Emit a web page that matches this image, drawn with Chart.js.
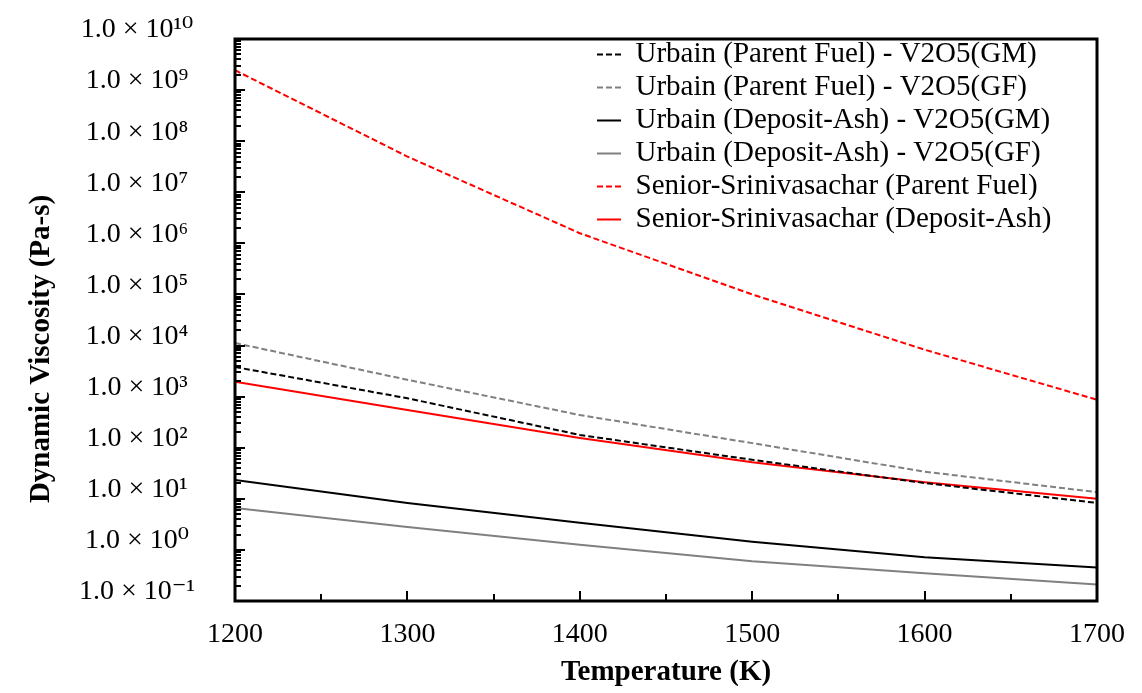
<!DOCTYPE html>
<html>
<head>
<meta charset="utf-8">
<script src="https://cdn.jsdelivr.net/npm/chart.js@4"></script>
<style>
  html, body { margin: 0; padding: 0; background: #fff; }
</style>
</head>
<body>
<canvas id="chart" width="1142" height="693"></canvas>
<script>
// Temperature (K) and viscosity (Pa-s)
const temperatures = [1200, 1300, 1400, 1500, 1600, 1700];
const urbainParentGM = [3800, 930, 178, 58, 20.4, 8.3];
const urbainParentGF = [11200, 2140, 437, 123, 34, 13.5];
const urbainDepositGM = [23.4, 8.3, 3.4, 1.45, 0.72, 0.45];
const urbainDepositGF = [6.6, 2.8, 1.26, 0.6, 0.35, 0.21];
const seniorParent = [2.45e9, 5.0e7, 1.58e6, 1.0e5, 8300, 870];
const seniorDeposit = [1950, 550, 155, 52, 21, 10];

const yMin = 0.1;
const yMax = 1e10;
const xTickStep = 50;

const superDigits = { '-': '\u207b', '0': '\u2070', '1': '\u00b9', '2': '\u00b2', '3': '\u00b3',
    '4': '\u2074', '5': '\u2075', '6': '\u2076', '7': '\u2077', '8': '\u2078', '9': '\u2079' };

function isPow10(v) {
    const e = Math.log10(v);
    return Math.abs(e - Math.round(e)) < 1e-9;
}

function sciLabel(v) {
    const e = String(Math.round(Math.log10(v)));
    return '1.0 \u00d7 10' + e.split('').map(c => superDigits[c]).join('');
}

function points(values) {
    return temperatures.map((t, i) => ({ x: t, y: values[i] }));
}

function series(label, values, color, dash) {
    return {
        label: label,
        data: points(values),
        borderColor: color,
        backgroundColor: color,
        borderWidth: 2,
        borderDash: dash,
        pointRadius: 0,
        pointStyle: 'line',
        tension: 0
    };
}

// inward tick marks and the box round the plot
const axisFrame = {
    id: 'axisFrame',
    afterDraw(chart) {
        const { ctx, chartArea: a, scales: { x, y } } = chart;
        ctx.save();
        ctx.strokeStyle = '#000';
        ctx.lineWidth = 2;
        ctx.beginPath();
        y.ticks.forEach(t => {
            const py = Math.round(y.getPixelForValue(t.value));
            const len = isPow10(t.value) ? 10 : 6;
            ctx.moveTo(a.left, py);
            ctx.lineTo(a.left + len, py);
        });
        x.ticks.forEach(t => {
            const px = Math.round(x.getPixelForValue(t.value));
            const len = t.value % 100 === 0 ? 10 : 7;
            ctx.moveTo(px, a.bottom);
            ctx.lineTo(px, a.bottom - len);
        });
        ctx.stroke();
        ctx.lineWidth = 3;
        ctx.strokeRect(a.left, a.top, a.right - a.left, a.bottom - a.top);
        ctx.restore();
    }
};

// put the legend in the upper right of the plot
const legendInside = {
    id: 'legendInside',
    beforeDraw(chart) {
        const lg = chart.legend;
        const a = chart.chartArea;
        lg.left = a.left + 358;
        lg.right = lg.left + lg.width;
        lg.top = a.top - 3;
        lg.bottom = lg.top + lg.height;
    }
};

Chart.defaults.font.family = "'Liberation Serif', 'Times New Roman', 'DejaVu Serif', serif";
Chart.defaults.color = '#000';

new Chart(document.getElementById('chart'), {
    type: 'line',
    data: {
        datasets: [
            series('Urbain (Parent Fuel) - V2O5(GM)', urbainParentGM, '#000000', [6, 3]),
            series('Urbain (Parent Fuel) - V2O5(GF)', urbainParentGF, '#808080', [6, 3]),
            series('Urbain (Deposit-Ash) - V2O5(GM)', urbainDepositGM, '#000000', []),
            series('Urbain (Deposit-Ash) - V2O5(GF)', urbainDepositGF, '#808080', []),
            series('Senior-Srinivasachar (Parent Fuel)', seniorParent, '#ff0000', [6, 3]),
            series('Senior-Srinivasachar (Deposit-Ash)', seniorDeposit, '#ff0000', [])
        ]
    },
    options: {
        responsive: false,
        animation: false,
        layout: { padding: { left: 10, top: 39, right: 38, bottom: 0 } },
        plugins: {
            tooltip: { enabled: false },
            legend: {
                position: 'chartArea',
                align: 'start',
                labels: {
                    usePointStyle: true,
                    pointStyleWidth: 24,
                    boxHeight: 10,
                    padding: 4,
                    color: '#000',
                    font: { size: 29, lineHeight: 1.2 },
                    generateLabels(chart) {
                        const items = Chart.defaults.plugins.legend.labels.generateLabels(chart);
                        items.forEach(item => {
                            const ds = chart.data.datasets[item.datasetIndex];
                            item.lineDash = ds.borderDash;
                            item.lineWidth = ds.borderWidth;
                            item.strokeStyle = ds.borderColor;
                        });
                        return items;
                    }
                }
            }
        },
        scales: {
            x: {
                type: 'linear',
                min: temperatures[0],
                max: temperatures[temperatures.length - 1],
                afterFit(scale) { scale.height = 92; },
                grid: { display: false, drawTicks: false },
                border: { display: false },
                ticks: {
                    stepSize: xTickStep,
                    autoSkip: false,
                    maxRotation: 0,
                    padding: 17,
                    font: { size: 28 },
                    callback: v => v % 100 === 0 ? String(v) : ''
                },
                title: {
                    display: true,
                    text: 'Temperature (K)',
                    font: { size: 29, weight: 'bold' },
                    padding: { top: 0, bottom: 3 }
                }
            },
            y: {
                type: 'logarithmic',
                min: yMin,
                max: yMax,
                afterBuildTicks(scale) {
                    const ticks = [];
                    for (let e = Math.log10(yMin); e < Math.log10(yMax); e++) {
                        for (let m = 1; m < 10; m++) ticks.push({ value: m * Math.pow(10, e) });
                    }
                    ticks.push({ value: yMax });
                    scale.ticks = ticks;
                },
                afterFit(scale) {
                    scale.width = 225;
                    scale.paddingTop = 0;
                    scale.paddingBottom = 0;
                },
                grid: { display: false, drawTicks: false },
                border: { display: false },
                ticks: {
                    autoSkip: false,
                    padding: 40,
                    crossAlign: 'center',
                    labelOffset: -9,
                    font: { size: 28 },
                    callback: v => isPow10(v) ? sciLabel(v) : ''
                },
                title: {
                    display: true,
                    text: 'Dynamic Viscosity (Pa-s)\u2003\u2003',
                    font: { size: 29, weight: 'bold' },
                    padding: { top: 14, bottom: 0 }
                }
            }
        }
    },
    plugins: [axisFrame, legendInside]
});
</script>
</body>
</html>
